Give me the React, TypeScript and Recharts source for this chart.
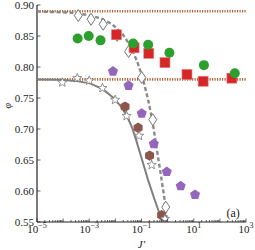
import React from 'react';
import { ComposedChart, Scatter, XAxis, YAxis, ReferenceLine, ReferenceDot } from 'recharts';

// x values are J', y values are phi
const greenX = [3.6e-4, 9.5e-4, 2.7e-3, 4.8e-2, 0.18, 1.17, 24.5, 372];
const greenY = [0.846, 0.85, 0.843, 0.838, 0.836, 0.823, 0.803, 0.79];

const redX = [0.011, 0.052, 0.19, 0.79, 5.5, 22.9, 288];
const redY = [0.852, 0.831, 0.822, 0.807, 0.788, 0.777, 0.782];

const diamondX = [3.8e-4, 1.17e-3, 3.4e-3, 0.0117, 0.032, 0.102, 0.27, 0.85];
const diamondY = [0.883, 0.877, 0.869, 0.851, 0.825, 0.783, 0.715, 0.574];

const starX = [9.3e-5, 3.5e-4, 1.0e-3, 3.2e-3, 9.8e-3, 0.027, 0.081, 0.245, 0.79];
const starY = [0.775, 0.782, 0.778, 0.766, 0.747, 0.721, 0.689, 0.642, 0.555];

const hexX = [0.0234, 0.074, 0.204, 0.59];
const hexY = [0.736, 0.702, 0.657, 0.561];

const pentX = [8.1e-3, 0.032, 0.102, 0.295, 0.93, 3.16, 11.2];
const pentY = [0.793, 0.77, 0.725, 0.676, 0.631, 0.608, 0.594];

// theory curves
const dashX = [1e-5, 1.8e-4, 6.9e-4, 2.6e-3, 7.4e-3, 0.018, 0.036, 0.068, 0.115, 0.178, 0.257, 0.363, 0.513, 0.741, 0.955];
const dashY = [0.8895, 0.8878, 0.8846, 0.8789, 0.8692, 0.8546, 0.8352, 0.8093, 0.7801, 0.7476, 0.7152, 0.6747, 0.6342, 0.5904, 0.55];

const solidX = [1e-5, 7.6e-5, 2.9e-4, 1.07e-3, 3.4e-3, 8.1e-3, 0.0166, 0.0282, 0.0437, 0.0617, 0.105, 0.178, 0.302, 0.513, 0.617];
const solidY = [0.78, 0.7793, 0.7776, 0.7736, 0.7639, 0.7509, 0.7363, 0.7201, 0.7023, 0.6828, 0.6504, 0.618, 0.5888, 0.5613, 0.55];

const refLevels = [0.89, 0.78];

const yTicks = [0.55, 0.6, 0.65, 0.7, 0.75, 0.8, 0.85, 0.9];
const decades = [-5, -4, -3, -2, -1, 0, 1, 2];
const labelExps = [-5, -3, -1, 1, 3];
const xTicks = [
  ...decades.flatMap((d) => [1, 2, 3, 4, 5, 6, 7, 8, 9].map((m) => m * Math.pow(10, d))),
  1000,
];

const zip = (xs: number[], ys: number[]) => xs.map((x, i) => ({ x, y: ys[i] }));

const FONT = '"Liberation Serif", "DejaVu Serif", serif';
const AX = '#222';

const XTick = (props: any) => {
  const { x, y, payload, top } = props;
  const e = Math.log10(payload.value);
  const re = Math.round(e);
  const major = Math.abs(e - re) < 1e-6;
  const len = major ? 3.5 : 2;
  const dir = top ? 1 : -1;
  return (
    <g>
      <line x1={x} x2={x} y1={y} y2={y + dir * len} stroke={AX} strokeWidth={0.7} />
      {!top && major && labelExps.includes(re) ? (
        <text x={x} y={y + 10.5} textAnchor="middle" fontFamily={FONT} fontSize={11} fill="#222">
          10
          <tspan dy={-4.5} fontSize={8}>
            {re < 0 ? '\u2212' + Math.abs(re) : re}
          </tspan>
        </text>
      ) : null}
    </g>
  );
};

const YTick = (props: any) => {
  const { x, y, payload, right } = props;
  return (
    <g>
      <line x1={x} x2={x + (right ? -3.5 : 3.5)} y1={y} y2={y} stroke={AX} strokeWidth={0.7} />
      {!right ? (
        <text x={x - 3} y={y} dy={3.8} textAnchor="end" fontFamily={FONT} fontSize={11} fill="#222">
          {payload.value.toFixed(2)}
        </text>
      ) : null}
    </g>
  );
};

const Circle = ({ cx, cy }: any) => <circle cx={cx} cy={cy} r={5} fill="#2ca02c" />;
const Square = ({ cx, cy }: any) => (
  <rect x={cx - 5} y={cy - 5} width={10} height={10} fill="#d62728" stroke="#e8787a" strokeWidth={0.6} />
);
const Diamond = ({ cx, cy }: any) => (
  <path
    d={`M${cx},${cy - 6} L${cx + 4},${cy} L${cx},${cy + 6} L${cx - 4},${cy} Z`}
    fill="#fff"
    stroke="#666"
    strokeWidth={0.9}
  />
);
const poly = (cx: number, cy: number, n: number, r: number, rot: number) =>
  Array.from({ length: n }, (_, i) => {
    const a = rot + (i * 2 * Math.PI) / n;
    return `${cx + r * Math.cos(a)},${cy + r * Math.sin(a)}`;
  }).join(' ');
const Star = ({ cx, cy }: any) => {
  const pts = Array.from({ length: 10 }, (_, i) => {
    const r = i % 2 === 0 ? 4.8 : 2.1;
    const a = -Math.PI / 2 + (i * Math.PI) / 5;
    return `${cx + r * Math.cos(a)},${cy + r * Math.sin(a)}`;
  }).join(' ');
  return <polygon points={pts} fill="#fff" stroke="#777" strokeWidth={0.8} />;
};
const Hex = ({ cx, cy }: any) => <polygon points={poly(cx, cy, 6, 5.2, -Math.PI / 2)} fill="#8c564b" />;
const Pent = ({ cx, cy }: any) => <polygon points={poly(cx, cy, 5, 5.3, -Math.PI / 2)} fill="#9467bd" />;
const NoDot = () => <g />;

export default function App() {
  return (
    <div style={{ position: 'absolute', left: 0, top: 0, background: '#fff' }}>
      <ComposedChart width={255} height={250} margin={{ top: 5, right: 9, left: 0, bottom: 0 }}>
        <XAxis
          dataKey="x"
          type="number"
          scale="log"
          domain={[1e-5, 1000]}
          allowDataOverflow
          ticks={xTicks}
          interval={0}
          tickSize={0}
          tickMargin={0}
          tickLine={false}
          tick={<XTick />}
          height={28}
          axisLine={{ stroke: AX, strokeWidth: 1.2 }}
          label={{ value: 'J\u2032', position: 'insideBottom', offset: 2, style: { fontFamily: FONT, fontStyle: 'italic', fontSize: 11, fill: '#222' } }}
        />
        <XAxis
          xAxisId="top"
          orientation="top"
          type="number"
          scale="log"
          domain={[1e-5, 1000]}
          allowDataOverflow
          ticks={xTicks}
          interval={0}
          tickSize={0}
          tickMargin={0}
          tickLine={false}
          tick={<XTick top />}
          height={0}
          axisLine={{ stroke: AX, strokeWidth: 1.2 }}
        />
        <YAxis
          dataKey="y"
          type="number"
          domain={[0.55, 0.9]}
          allowDataOverflow
          ticks={yTicks}
          interval={0}
          tickSize={0}
          tickMargin={0}
          tickLine={false}
          tick={<YTick />}
          width={37}
          axisLine={{ stroke: AX, strokeWidth: 1.2 }}
          label={{ value: '\u03c6', angle: -90, position: 'insideLeft', offset: 7, dy: -5, style: { fontFamily: FONT, fontStyle: 'italic', fontSize: 10, fill: '#222' } }}
        />
        <YAxis
          yAxisId="right"
          orientation="right"
          type="number"
          domain={[0.55, 0.9]}
          allowDataOverflow
          ticks={yTicks}
          interval={0}
          tickSize={0}
          tickMargin={0}
          tickLine={false}
          tick={<YTick right />}
          width={0}
          axisLine={{ stroke: AX, strokeWidth: 1.2 }}
        />
        {refLevels.map((v) => (
          <ReferenceLine key={v} y={v} stroke="#b0683a" strokeWidth={2.6} strokeDasharray="1.2 1.3" />
        ))}
        <Scatter
          data={zip(dashX, dashY)}
          line={{ stroke: '#8a8a8a', strokeWidth: 2.4, strokeDasharray: '4 2.5' }}
          lineType="joint"
          shape={<NoDot />}
          isAnimationActive={false}
        />
        <Scatter
          data={zip(solidX, solidY)}
          line={{ stroke: '#7f7f7f', strokeWidth: 2 }}
          lineType="joint"
          shape={<NoDot />}
          isAnimationActive={false}
        />
        <Scatter data={zip(hexX, hexY)} shape={<Hex />} isAnimationActive={false} />
        <Scatter data={zip(starX, starY)} shape={<Star />} isAnimationActive={false} />
        <Scatter data={zip(diamondX, diamondY)} shape={<Diamond />} isAnimationActive={false} />
        <Scatter data={zip(pentX, pentY)} shape={<Pent />} isAnimationActive={false} />
        <Scatter data={zip(redX, redY)} shape={<Square />} isAnimationActive={false} />
        <Scatter data={zip(greenX, greenY)} shape={<Circle />} isAnimationActive={false} />
        <ReferenceDot
          x={324}
          y={0.5645}
          r={0}
          fill="none"
          stroke="none"
          label={{ value: '(a)', position: 'center', style: { fontFamily: FONT, fontSize: 12, fill: '#222' } }}
        />
      </ComposedChart>
    </div>
  );
}
